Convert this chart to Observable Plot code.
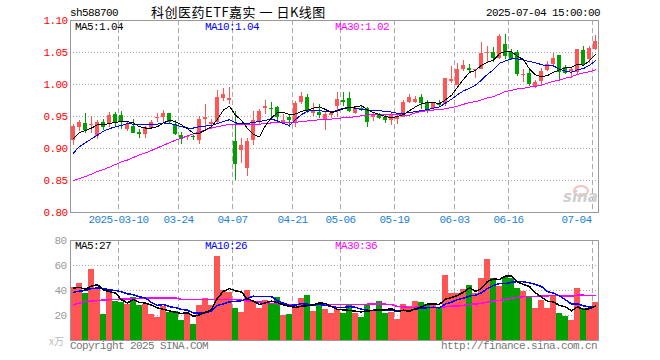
<!DOCTYPE html>
<html><head><meta charset="utf-8">
<script src="https://cdn.jsdelivr.net/npm/d3@7"></script>
<script src="https://cdn.jsdelivr.net/npm/@observablehq/plot@0.6"></script>
<style>
html,body{margin:0;padding:0;background:#fff;}
#chart{position:relative;width:660px;height:360px;overflow:hidden;background:#fff;}
.t{position:absolute;white-space:pre;line-height:1;font-family:"Liberation Mono","DejaVu Sans Mono",monospace;font-size:11px;letter-spacing:-0.6px;}
#price,#vol{position:absolute;left:0;}
#price{top:0;} #vol{top:232px;}
</style></head><body>
<div id="chart">
  <div id="price"></div>
  <div id="vol"></div>
  <div class="t" style="left:70px;top:8px;color:#000">sh588700</div>
  <div id="title" style="position:absolute;left:151px;top:5px;white-space:pre;line-height:1;font-family:'Noto Sans CJK SC',sans-serif;font-size:13px;letter-spacing:0.5px;color:#000">科创医药ETF嘉实 一 日K线图</div>
  <div class="t" style="right:60px;top:8px;color:#000">2025-07-04 15:00:00</div>
  <div class="t" style="left:75px;top:22px;color:#000">MA5:1.04</div>
  <div class="t" style="left:205px;top:22px;color:#0000ff">MA10:1.04</div>
  <div class="t" style="left:335px;top:22px;color:#ff00ff">MA30:1.02</div>
  <div class="t" style="left:75px;top:241px;color:#000">MA5:27</div>
  <div class="t" style="left:205px;top:241px;color:#0000ff">MA10:26</div>
  <div class="t" style="left:335px;top:241px;color:#ff00ff">MA30:36</div>
  <div class="t" style="left:49px;top:336px;color:#bbb;font-family:'Noto Sans CJK SC',sans-serif;font-size:10px;letter-spacing:0">x万</div>
  <div class="t" style="left:70px;top:341px;color:#777">Copyright 2025 SINA.COM</div>
  <div class="t" style="right:63px;top:341px;color:#777">http://finance.sina.com.cn</div>
  <div style="position:absolute;left:573px;top:185px;width:12px;height:8px;border:2px solid #f4c0c0;border-radius:50%;"></div>
  <div style="position:absolute;left:563px;top:190px;font-family:'DejaVu Sans',sans-serif;font-style:italic;font-weight:bold;font-size:15px;color:#cfcfcf;line-height:1;">sina</div>
</div>
<script>
// ---- data ----
const tickIndex = [8, 18, 27, 37, 45, 54, 64, 73, 87];
const tickLabels = ["2025-03-10", "03-24", "04-07", "04-21", "05-06", "05-19", "06-03", "06-16", "07-04"];
const priceTicks = [0.80, 0.85, 0.90, 0.95, 1.00, 1.05, 1.10];
const priceGrid = [0.85, 0.90, 0.95, 1.00, 1.05];
const volTicks = [20, 40, 60, 80];
const volGrid = [20, 40, 60];

const openP = [0.912,0.933,0.939,0.936,0.918,0.941,0.938,0.953,0.952,0.929,
0.935,0.925,0.922,0.932,0.948,0.949,0.954,0.938,0.921,0.917,
0.919,0.913,0.946,0.938,0.940,0.978,0.975,0.911,0.897,0.869,
0.912,0.942,0.962,0.963,0.964,0.940,0.948,0.939,0.972,0.980,
0.955,0.957,0.946,0.951,0.966,0.975,0.978,0.955,0.963,0.963,
0.949,0.951,0.948,0.944,0.945,0.949,0.972,0.972,0.979,0.972,
0.963,0.970,0.968,1.004,0.999,1.024,1.025,1.023,1.024,1.049,
1.050,1.040,1.062,1.050,1.050,1.015,1.017,0.996,1.005,1.022,
1.031,1.046,1.026,1.020,1.019,1.053,1.039,1.054];
const highP = [0.938,0.944,0.955,0.950,0.943,0.945,0.956,0.956,0.958,0.940,
0.946,0.930,0.935,0.943,0.954,0.960,0.955,0.943,0.925,0.920,
0.921,0.950,0.968,0.946,0.990,0.994,0.995,0.958,0.916,0.916,
0.958,0.961,0.975,0.972,0.966,0.953,0.951,0.974,0.988,0.984,
0.971,0.968,0.958,0.958,0.988,0.988,0.987,0.966,0.967,0.964,
0.956,0.954,0.951,0.954,0.953,0.975,0.985,0.981,0.985,0.975,
0.972,0.975,1.010,1.028,1.033,1.037,1.032,1.024,1.065,1.059,
1.058,1.078,1.078,1.054,1.053,1.023,1.024,1.007,1.025,1.036,
1.048,1.046,1.029,1.025,1.054,1.060,1.060,1.076];
const lowP = [0.905,0.927,0.924,0.923,0.914,0.928,0.933,0.935,0.929,0.926,
0.923,0.916,0.916,0.929,0.940,0.940,0.937,0.920,0.906,0.912,
0.912,0.906,0.930,0.934,0.938,0.974,0.969,0.850,0.877,0.856,
0.905,0.937,0.953,0.946,0.940,0.937,0.933,0.933,0.968,0.955,
0.950,0.947,0.928,0.947,0.948,0.965,0.956,0.953,0.958,0.933,
0.942,0.945,0.939,0.936,0.937,0.948,0.970,0.970,0.961,0.954,
0.958,0.964,0.965,1.002,0.999,1.020,1.018,1.009,1.023,1.035,
1.034,1.039,1.039,1.037,1.013,1.003,0.997,0.994,0.997,1.020,
1.030,1.005,1.015,1.010,1.015,1.030,1.033,1.053];
const closeP = [0.935,0.941,0.930,0.938,0.941,0.934,0.952,0.941,0.944,0.937,
0.925,0.923,0.933,0.940,0.949,0.954,0.942,0.924,0.915,0.919,
0.918,0.945,0.948,0.941,0.980,0.984,0.978,0.876,0.904,0.911,
0.943,0.958,0.966,0.962,0.950,0.943,0.946,0.970,0.982,0.959,
0.959,0.953,0.953,0.955,0.976,0.974,0.960,0.962,0.961,0.942,
0.953,0.949,0.946,0.951,0.949,0.972,0.979,0.976,0.972,0.961,
0.970,0.969,1.009,1.008,1.024,1.029,1.024,1.024,1.048,1.050,
1.042,1.075,1.046,1.040,1.017,1.016,1.001,1.003,1.021,1.031,
1.041,1.021,1.018,1.024,1.054,1.032,1.056,1.067];
const ma5P = [0.916,0.925,0.928,0.932,0.937,0.937,0.939,0.941,0.942,0.942,
0.940,0.934,0.932,0.932,0.934,0.940,0.944,0.942,0.937,0.931,
0.924,0.924,0.929,0.934,0.946,0.960,0.966,0.952,0.944,0.931,
0.922,0.918,0.936,0.948,0.956,0.956,0.953,0.954,0.958,0.960,
0.963,0.965,0.961,0.956,0.959,0.962,0.964,0.965,0.967,0.960,
0.956,0.953,0.950,0.948,0.950,0.953,0.959,0.965,0.970,0.972,
0.972,0.970,0.976,0.983,0.996,1.008,1.019,1.022,1.030,1.035,
1.038,1.048,1.052,1.051,1.044,1.039,1.024,1.015,1.012,1.014,
1.019,1.023,1.026,1.027,1.032,1.030,1.037,1.047];
const ma10P = [0.893,0.903,0.909,0.915,0.921,0.927,0.931,0.934,0.936,0.939,
0.938,0.937,0.937,0.937,0.938,0.940,0.939,0.937,0.934,0.932,
0.932,0.934,0.935,0.936,0.939,0.942,0.945,0.940,0.939,0.939,
0.941,0.942,0.944,0.946,0.943,0.939,0.936,0.945,0.953,0.958,
0.960,0.959,0.958,0.957,0.960,0.963,0.964,0.963,0.961,0.960,
0.959,0.959,0.958,0.957,0.955,0.955,0.956,0.958,0.959,0.961,
0.963,0.965,0.971,0.977,0.984,0.990,0.994,0.999,1.007,1.016,
1.023,1.033,1.037,1.040,1.040,1.038,1.036,1.034,1.031,1.029,
1.029,1.024,1.021,1.019,1.023,1.025,1.030,1.037];
const ma30P = [0.850,0.853,0.856,0.860,0.864,0.867,0.871,0.875,0.879,0.882,
0.886,0.890,0.893,0.897,0.901,0.905,0.909,0.913,0.916,0.920,
0.923,0.926,0.929,0.932,0.934,0.936,0.938,0.937,0.937,0.937,
0.937,0.938,0.939,0.940,0.940,0.940,0.940,0.941,0.942,0.943,
0.944,0.945,0.946,0.946,0.947,0.948,0.948,0.950,0.951,0.952,
0.953,0.953,0.953,0.954,0.953,0.952,0.952,0.956,0.958,0.959,
0.960,0.961,0.962,0.964,0.966,0.969,0.972,0.973,0.976,0.979,
0.981,0.985,0.989,0.991,0.993,0.994,0.996,0.997,0.999,1.002,
1.005,1.007,1.010,1.012,1.016,1.018,1.020,1.023];
const volume = [42.1,45.6,37.6,56.8,41.3,20.8,39.5,31.2,30.1,28.8,
34.4,28.0,28.8,20.8,18.7,27.5,22.7,23.2,16.0,21.9,
12.8,28.0,33.9,28.0,67.2,40.0,38.4,25.6,22.4,40.3,
30.1,25.9,32.0,29.3,34.4,20.3,21.1,27.5,33.9,36.0,
23.5,29.6,25.1,21.5,24.5,21.6,28.0,21.6,18.7,28.0,
23.7,31.2,21.6,22.4,16.8,28.8,27.2,31.2,30.4,28.8,
28.0,26.1,52.0,37.3,37.3,40.5,44.0,37.3,49.6,64.8,
49.6,43.2,50.4,49.6,41.6,39.5,34.9,25.6,32.0,25.6,
35.7,21.6,19.5,16.3,41.6,25.3,24.5,30.1];
const ma5V = [42.0,42.5,41.0,43.5,44.7,40.4,39.2,37.9,32.6,30.1,
32.8,30.5,30.0,28.2,26.1,24.8,23.7,22.6,21.6,22.3,
19.3,20.4,22.5,24.9,34.0,39.4,41.5,39.8,38.7,33.3,
31.4,28.9,30.1,31.5,30.3,28.4,27.4,26.5,27.4,27.8,
28.4,30.1,29.6,27.1,24.8,24.5,24.1,23.4,22.9,23.6,
24.0,24.6,24.6,25.4,23.1,24.2,23.4,25.3,26.9,29.3,
29.1,28.9,33.1,34.4,36.1,38.6,42.2,39.3,41.7,47.2,
49.1,48.9,51.5,51.5,46.9,44.9,43.2,38.2,34.7,31.5,
30.8,28.1,26.9,23.7,26.9,24.9,25.4,27.6];
const ma10V = [38.5,39.5,40.0,41.5,42.0,41.5,40.5,40.0,39.0,37.4,
36.6,34.9,34.0,30.4,28.1,28.8,27.1,26.3,24.9,24.2,
22.0,22.0,22.6,23.3,28.1,29.4,30.9,31.2,31.8,33.7,
35.4,35.2,35.0,35.1,31.8,29.9,28.1,28.3,29.5,29.1,
28.4,28.8,28.1,27.3,26.3,26.4,27.1,26.5,25.0,24.2,
24.2,24.4,24.0,24.1,23.4,24.1,24.0,25.0,26.1,26.2,
26.6,26.1,29.2,30.7,32.7,33.9,35.6,36.2,38.1,41.7,
43.9,45.6,45.4,46.6,47.1,47.0,46.1,44.9,43.1,39.2,
37.8,35.7,32.6,29.2,29.2,27.8,26.8,27.2];
const ma30V = [28.5,30.0,31.0,31.6,32.0,32.3,32.6,32.8,33.0,33.2,
33.4,33.6,33.8,34.0,34.1,34.1,34.1,34.1,32.8,32.8,
32.8,32.8,32.8,32.8,32.8,32.8,33.0,32.6,32.2,31.7,
31.3,30.7,30.5,29.6,29.4,29.3,28.7,28.6,28.7,29.0,
28.6,28.7,28.5,28.6,28.8,28.6,28.7,28.7,28.8,29.0,
29.3,29.4,29.0,28.8,27.2,26.8,26.4,26.6,26.9,26.5,
26.4,26.4,27.1,27.4,27.5,28.1,28.9,29.2,29.7,30.7,
31.6,32.0,32.9,33.8,34.4,35.0,35.2,35.3,35.8,35.7,
36.1,35.8,35.7,35.5,36.3,36.2,36.1,36.1];

// ---- styling ----
const RED = "#ff5555", GREEN = "#00a000", GRID = "#aaa", FRAME = "#999";
const n = closeP.length;
const idx = d3.range(n);
const col = i => closeP[i] >= openP[i] ? RED : GREEN;
const font = {fontFamily: '"Liberation Mono","DejaVu Sans Mono",monospace', fontSize: "11px", letterSpacing: "-0.6px", background: "transparent", overflow: "visible"};
const xOpt = {type: "linear", domain: [-0.5, n - 0.5], axis: null};
const HW = 0.4;

const price = Plot.plot({
  width: 660, height: 232, marginLeft: 70, marginRight: 62, marginTop: 20, marginBottom: 20,
  style: font,
  x: xOpt,
  y: {domain: [0.80, 1.10], axis: null},
  marks: [
    Plot.ruleY(priceGrid, {stroke: GRID, strokeDasharray: "1,2"}),
    Plot.ruleX(tickIndex, {x: d => d - 0.5, stroke: GRID, strokeDasharray: "5,3"}),
    Plot.axisY({ticks: priceTicks, tickSize: 0, tickPadding: 3, tickFormat: d3.format(".2f"), color: "#ff0000", label: null}),
    Plot.ruleX(idx, {x: i => i, y1: i => lowP[i], y2: i => highP[i], stroke: col, shapeRendering: "crispEdges"}),
    Plot.rect(idx, {x1: i => i - HW, x2: i => i + HW, y1: i => openP[i], y2: i => closeP[i], fill: col, shapeRendering: "crispEdges"}),
    Plot.ruleY(idx, {y: i => closeP[i], x1: i => i - HW, x2: i => i + HW, stroke: col, shapeRendering: "crispEdges"}),
    Plot.line(idx, {x: i => i, y: i => ma30P[i], stroke: "#ff00ff", strokeWidth: 1, shapeRendering: "crispEdges"}),
    Plot.line(idx, {x: i => i, y: i => ma10P[i], stroke: "#0000ff", strokeWidth: 1, shapeRendering: "crispEdges"}),
    Plot.line(idx, {x: i => i, y: i => ma5P[i], stroke: "#000", strokeWidth: 1, shapeRendering: "crispEdges"}),
    Plot.text(tickIndex.slice(0, -1), {x: d => d - 0.5, text: (d, i) => tickLabels[i], frameAnchor: "bottom", dy: 10, fill: "#1e7fd6", textAnchor: "middle"}),
    Plot.text(tickIndex.slice(-1), {x: d => d - 0.5, text: () => tickLabels[tickLabels.length - 1], frameAnchor: "bottom", dy: 10, dx: -1, fill: "#1e7fd6", textAnchor: "end"}),
    Plot.frame({stroke: FRAME})
  ]
});
document.getElementById("price").append(price);

const vol = Plot.plot({
  width: 660, height: 128, marginLeft: 70, marginRight: 62, marginTop: 8, marginBottom: 20,
  style: font,
  x: xOpt,
  y: {domain: [0, 80], axis: null},
  marks: [
    Plot.ruleY(volGrid, {stroke: GRID, strokeDasharray: "1,2"}),
    Plot.ruleX(tickIndex, {x: d => d - 0.5, stroke: GRID, strokeDasharray: "5,3"}),
    Plot.axisY({ticks: volTicks, tickSize: 0, tickPadding: 4, color: "#999", label: null}),
    Plot.rect(idx, {x1: i => i - 0.42, x2: i => i + 0.42, y1: 0, y2: i => volume[i], fill: col, shapeRendering: "crispEdges"}),
    Plot.line(idx, {x: i => i, y: i => ma30V[i], stroke: "#ff00ff", shapeRendering: "crispEdges"}),
    Plot.line(idx, {x: i => i, y: i => ma10V[i], stroke: "#0000ff", shapeRendering: "crispEdges"}),
    Plot.line(idx, {x: i => i, y: i => ma5V[i], stroke: "#000", shapeRendering: "crispEdges"}),
    Plot.frame({stroke: FRAME})
  ]
});
document.getElementById("vol").append(vol);
</script>
</body></html>
